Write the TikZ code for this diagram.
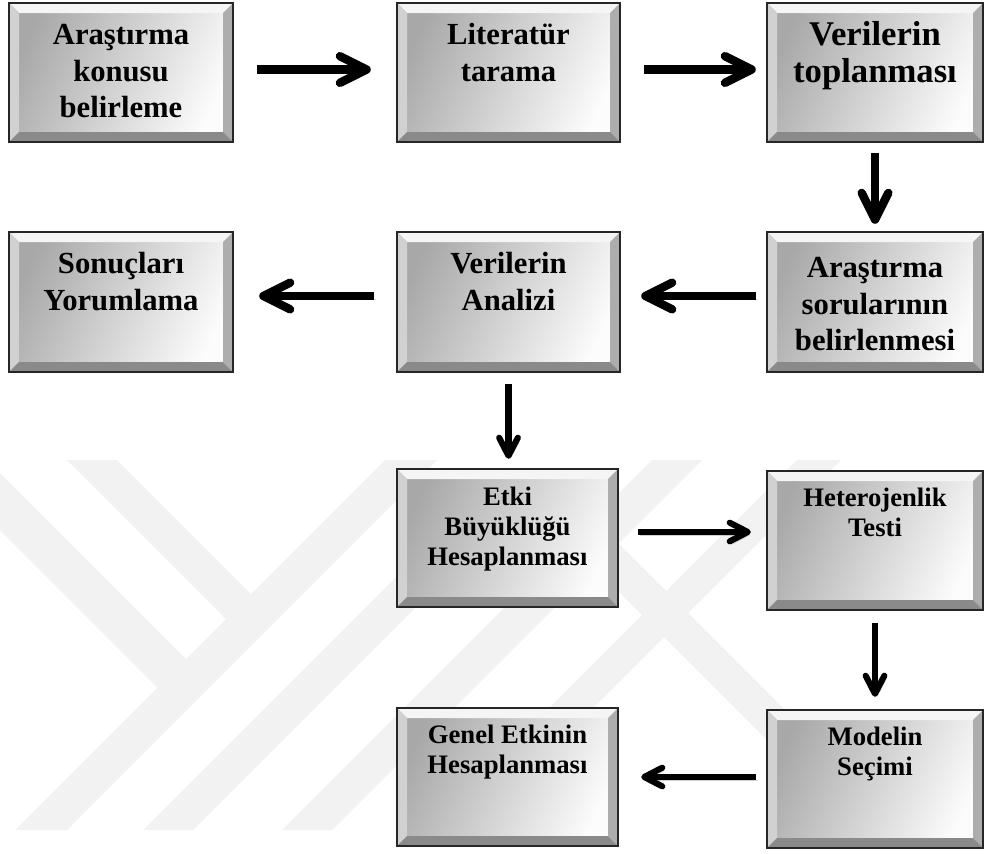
\documentclass[tikz,border=0pt]{standalone}
\usepackage{fontspec}
\setmainfont{Liberation Serif}
\usetikzlibrary{arrows.meta,calc}

\begin{document}
\begin{tikzpicture}[x=0.75pt,y=-0.75pt,
  % raised grey panel: shaded face with four bevel strips
  bevelbox/.style={rectangle, inner sep=0pt, draw=black!85, line width=1.8pt,
    path picture={
      \shade[top color=black!34, bottom color=black!1, shading angle=65]
        (path picture bounding box.south west) rectangle (path picture bounding box.north east);
      \fill[black!4] let \p1=(path picture bounding box.south west), \p2=(path picture bounding box.north east) in
        (\x1,\y2) -- (\x2,\y2) -- (\x2-7.5pt,\y2-7.5pt) -- (\x1+7.5pt,\y2-7.5pt) -- cycle;
      \fill[black!18] let \p1=(path picture bounding box.south west), \p2=(path picture bounding box.north east) in
        (\x1,\y1) -- (\x1,\y2) -- (\x1+7.5pt,\y2-7.5pt) -- (\x1+7.5pt,\y1+7.5pt) -- cycle;
      \fill[black!32] let \p1=(path picture bounding box.south west), \p2=(path picture bounding box.north east) in
        (\x2,\y1) -- (\x2,\y2) -- (\x2-7.5pt,\y2-7.5pt) -- (\x2-7.5pt,\y1+7.5pt) -- cycle;
      \fill[black!46] let \p1=(path picture bounding box.south west), \p2=(path picture bounding box.north east) in
        (\x1,\y1) -- (\x2,\y1) -- (\x2-7.5pt,\y1+7.5pt) -- (\x1+7.5pt,\y1+7.5pt) -- cycle;
    }},
  bigtext/.style={anchor=base, inner sep=0pt, font=\bfseries\fontsize{23pt}{27.4pt}\selectfont},
  largetext/.style={anchor=base, inner sep=0pt, font=\bfseries\fontsize{26pt}{27.5pt}\selectfont},
  smalltext/.style={anchor=base, inner sep=0pt, font=\bfseries\fontsize{20pt}{22.5pt}\selectfont},
  arrowshadow/.style={preaction={draw=black, opacity=0.18, transform canvas={shift={(1.5pt,-2.2pt)}}}},
  thickarrow/.style={line width=6.3pt, arrowshadow, -{Straight Barb[length=20pt,width=20pt,round]}},
  thinarrow/.style={line width=4.6pt, arrowshadow, -{Straight Barb[length=13.5pt,width=14pt,round]}}
]
\useasboundingbox (0,0) rectangle (984,853);
\fill[white] (0,0) rectangle (984,853);

% faint background emblem made of diagonal bands
\begin{scope}[black!5]
  \fill (0,473) -- (186,659) -- (157.5,687.5) -- (0,530) -- cycle;
  \fill (67,460) -- (117,460) -- (251,594) -- (226,619) -- cycle;
  \fill (385,460) -- (437,460) -- (67,830) -- (15,830) -- cycle;
  \fill (453,520) -- (503,520) -- (193,830) -- (143,830) -- cycle;
  \fill (652,460) -- (702,460) -- (332,830) -- (282,830) -- cycle;
  \fill (797,460) -- (841,460) -- (471,830) -- (427,830) -- cycle;
  \fill (618.5,543.5) -- (594.5,567.5) -- (857,830) -- (905,830) -- cycle;
\end{scope}

% panels
\node[bevelbox, minimum width=168pt,    minimum height=104.25pt] (konu)    at (121,72.5) {};
\node[bevelbox, minimum width=167.25pt, minimum height=104.25pt] (lit)     at (508.5,72.5) {};
\node[bevelbox, minimum width=162pt,    minimum height=104.25pt] (topla)   at (875,72.5) {};
\node[bevelbox, minimum width=168pt,    minimum height=105pt]    (sonuc)   at (121,302) {};
\node[bevelbox, minimum width=167.25pt, minimum height=105pt]    (analiz)  at (508.5,302) {};
\node[bevelbox, minimum width=162pt,    minimum height=105pt]    (soru)    at (875,302) {};
\node[bevelbox, minimum width=165.75pt, minimum height=103.5pt]  (etki)    at (507.5,538) {};
\node[bevelbox, minimum width=162pt,    minimum height=104.25pt] (hetero)  at (875,540.5) {};
\node[bevelbox, minimum width=165.75pt, minimum height=103.5pt]  (genel)   at (507.5,777) {};
\node[bevelbox, minimum width=162pt,    minimum height=103.5pt]  (model)   at (875,779) {};

% labels
\node[bigtext] (konuT)   at ($(konu.north)+(0,43)$)   {\begin{tabular}[t]{@{}c@{}}Araştırma\\konusu\\belirleme\end{tabular}};
\node[bigtext] (litT)    at ($(lit.north)+(0,43)$)    {\begin{tabular}[t]{@{}c@{}}Literatür\\tarama\end{tabular}};
\node[largetext] (toplaT) at ($(topla.north)+(0,44)$) {\begin{tabular}[t]{@{}c@{}}Verilerin\\toplanması\end{tabular}};
\node[bigtext] (sonucT)  at ($(sonuc.north)+(0,43)$)  {\begin{tabular}[t]{@{}c@{}}Sonuçları\\Yorumlama\end{tabular}};
\node[bigtext] (analizT) at ($(analiz.north)+(0,43)$) {\begin{tabular}[t]{@{}c@{}}Verilerin\\Analizi\end{tabular}};
\node[bigtext] (soruT)   at ($(soru.north)+(0,47)$)   {\begin{tabular}[t]{@{}c@{}}Araştırma\\sorularının\\belirlenmesi\end{tabular}};
\node[smalltext] (etkiT)   at ($(etki.north)+(0,38)$)   {\begin{tabular}[t]{@{}c@{}}Etki\\Büyüklüğü\\Hesaplanması\end{tabular}};
\node[smalltext] (heteroT) at ($(hetero.north)+(0,37)$) {\begin{tabular}[t]{@{}c@{}}Heterojenlik\\Testi\end{tabular}};
\node[smalltext] (genelT)  at ($(genel.north)+(0,37)$)  {\begin{tabular}[t]{@{}c@{}}Genel Etkinin\\Hesaplanması\end{tabular}};
\node[smalltext] (modelT)  at ($(model.north)+(0,37)$)  {\begin{tabular}[t]{@{}c@{}}Modelin\\Seçimi\end{tabular}};

% flow
\draw[thickarrow, shorten <=17.25pt, shorten >=18.75pt] ($(konu.east)+(0,-3)$) -- ($(lit.west)+(0,-3)$);
\draw[thickarrow, shorten <=17.25pt, shorten >=7.5pt]   ($(lit.east)+(0,-3)$) -- ($(topla.west)+(0,-3)$);
\draw[thickarrow, shorten <=7.5pt,  shorten >=5.25pt]   (topla.south) -- (soru.north);
\draw[thickarrow, shorten <=7.5pt,  shorten >=15pt]     ($(soru.west)+(0,-6)$) -- ($(analiz.east)+(0,-6)$);
\draw[thickarrow, shorten <=16.5pt, shorten >=18.75pt]  ($(analiz.west)+(0,-6)$) -- ($(sonuc.east)+(0,-6)$);
\draw[thinarrow,  shorten <=8.25pt, shorten >=6.75pt]   (analiz.south) -- (analiz.south |- etki.north);
\draw[thinarrow,  shorten <=14.25pt, shorten >=11.25pt] ($(etki.east)+(0,-6)$) -- ($(hetero.west)+(0,-8.5)$);
\draw[thinarrow,  shorten <=9pt,    shorten >=9pt]      (hetero.south) -- (model.north);
\draw[thinarrow,  shorten <=7.5pt,  shorten >=16.5pt]   ($(model.west)+(0,-2)$) -- (genel.east);
\end{tikzpicture}
\end{document}
